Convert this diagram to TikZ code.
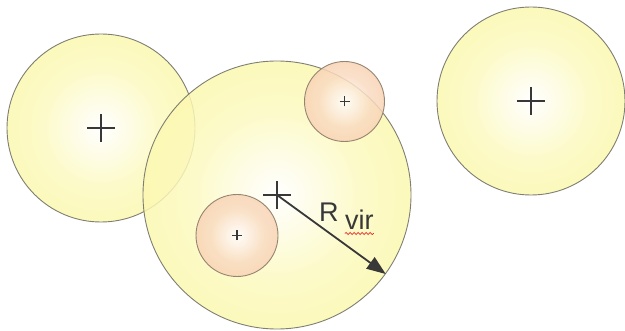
\documentclass[tikz,border=0pt]{standalone}
\usepackage{fontspec}
\setmainfont{Liberation Sans}
\usepackage{xcolor}
\usepackage{tikz}
\usetikzlibrary{arrows.meta,positioning,decorations.pathmorphing}
\definecolor{haloedge}{HTML}{FAF48A}
\definecolor{subedge}{HTML}{F5BE90}
\definecolor{rimgray}{HTML}{7E7E72}
\definecolor{subrim}{HTML}{968472}
\definecolor{inkgray}{HTML}{383838}
\definecolor{spellred}{HTML}{E0302A}
\pgfdeclareradialshading{haloshade}{\pgfpoint{0bp}{0bp}}{color(0bp)=(white); color(16bp)=(haloedge!55!white); color(50bp)=(haloedge)}
\pgfdeclareradialshading{subshade}{\pgfpoint{0bp}{0bp}}{color(0bp)=(white); color(16bp)=(subedge!55!white); color(50bp)=(subedge)}
\tikzset{
  halo/.style={circle, draw=rimgray, line width=0.9pt, shading=haloshade, fill opacity=0.85, inner sep=0pt},
  subhalo/.style={circle, draw=subrim, line width=0.9pt, shading=subshade, fill opacity=0.85, inner sep=0pt},
  crossline/.style={draw=inkgray, line width=1.1pt},
  radiusarrow/.style={-{Triangle[length=19pt,width=14pt]}, draw=inkgray, line width=1.8pt},
  lbl/.style={font=\fontsize{27}{32}\selectfont, text=inkgray, inner sep=0pt, anchor=base west},
  squiggle/.style={draw=spellred, line width=0.7pt, decorate, decoration={snake, amplitude=1.1pt, segment length=4pt}}
}
\begin{document}
\begin{tikzpicture}[x=1pt,y=-1pt]
  \useasboundingbox (0,0) rectangle (625,331);

  \node[halo, minimum size=188pt] (lefthalo) at (101,128) {};
  \node[halo, minimum size=268pt] (host) at (277,195) {};
  \node[subhalo, minimum size=80pt] (subtop) at (344.5,101.5) {};
  \node[subhalo, minimum size=82pt] (subbot) at (237,235.5) {};
  \node[halo, minimum size=188pt] (righthalo) at (531,101) {};

  \foreach \n/\s in {lefthalo/14,host/14,righthalo/14,subtop/5,subbot/5}
    \draw[crossline] ([xshift=-\s pt]\n.center) -- ([xshift=\s pt]\n.center)
                     ([yshift=-\s pt]\n.center) -- ([yshift=\s pt]\n.center);

  \draw[radiusarrow] (host.center) -- (host.-36.3);

  \node[lbl] (rsym) at (319,221.5) {R};
  \node[lbl] (vsub) at ([xshift=6pt,yshift=-8pt]rsym.base east) {vir};
  \draw[squiggle] ([yshift=-4pt]vsub.base west) -- ([yshift=-4pt]vsub.base east);
\end{tikzpicture}
\end{document}
